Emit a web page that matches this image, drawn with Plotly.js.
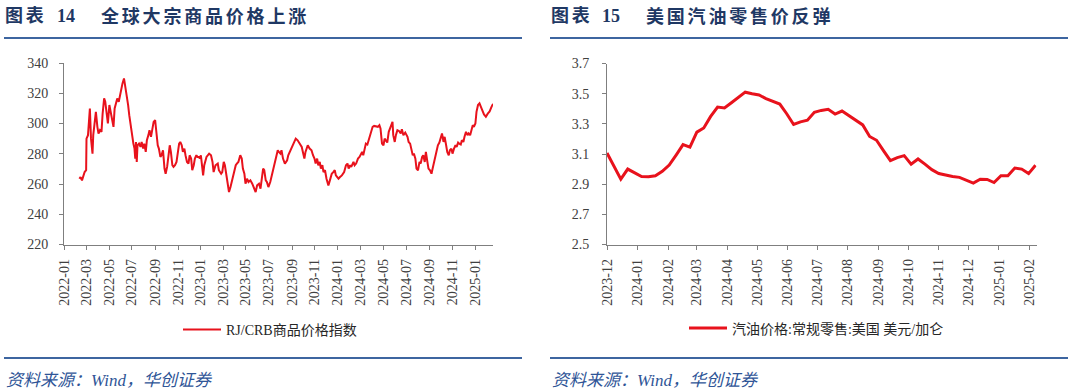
<!DOCTYPE html>
<html><head><meta charset="utf-8">
<script src="https://cdn.plot.ly/plotly-3.0.1.min.js"></script>
<style>html,body{margin:0;padding:0;background:#fff;}#chart{width:1080px;height:391px;}</style>
</head><body><div id="chart"></div>
<script>
// ---------- Chart 14: RJ/CRB commodity index ----------
const crbName = 'RJ/CRB商品价格指数';
const crbDates = [
'2022-02-11','2022-02-14','2022-02-18','2022-02-22','2022-02-25','2022-03-01','2022-03-02','2022-03-06','2022-03-10','2022-03-11',
'2022-03-14','2022-03-18','2022-03-20','2022-03-24','2022-03-27','2022-03-31','2022-04-03','2022-04-07','2022-04-11','2022-04-14',
'2022-04-18','2022-04-21','2022-04-25','2022-04-28','2022-05-02','2022-05-05','2022-05-09','2022-05-13','2022-05-16','2022-05-20',
'2022-05-23','2022-05-27','2022-05-30','2022-06-03','2022-06-06','2022-06-10','2022-06-14','2022-06-17','2022-06-21','2022-06-24',
'2022-06-28','2022-07-01','2022-07-05','2022-07-08','2022-07-10','2022-07-12','2022-07-14','2022-07-16','2022-07-20','2022-07-24',
'2022-07-27','2022-07-31','2022-08-03','2022-08-07','2022-08-10','2022-08-14','2022-08-17','2022-08-21','2022-08-25','2022-08-28',
'2022-09-01','2022-09-04','2022-09-08','2022-09-11','2022-09-15','2022-09-18','2022-09-22','2022-09-26','2022-09-29','2022-10-03',
'2022-10-06','2022-10-10','2022-10-13','2022-10-17','2022-10-20','2022-10-24','2022-10-28','2022-10-31','2022-11-04','2022-11-07',
'2022-11-11','2022-11-14','2022-11-18','2022-11-21','2022-11-25','2022-11-29','2022-12-02','2022-12-06','2022-12-09','2022-12-13',
'2022-12-16','2022-12-20','2022-12-23','2022-12-27','2022-12-29','2023-01-01','2023-01-07','2023-01-10','2023-01-16','2023-01-23',
'2023-01-28','2023-02-01','2023-02-04','2023-02-09','2023-02-15','2023-02-18','2023-02-24','2023-02-27','2023-03-03','2023-03-06',
'2023-03-10','2023-03-13','2023-03-17','2023-03-21','2023-03-24','2023-03-28','2023-03-31','2023-04-04','2023-04-07','2023-04-11',
'2023-04-16','2023-04-20','2023-04-23','2023-04-27','2023-04-30','2023-05-04','2023-05-08','2023-05-13','2023-05-18','2023-05-22',
'2023-05-27','2023-05-31','2023-06-05','2023-06-09','2023-06-12','2023-06-16','2023-06-19','2023-06-23','2023-06-26','2023-06-30',
'2023-07-05','2023-07-09','2023-07-14','2023-07-18','2023-07-21','2023-07-25','2023-07-28','2023-08-01','2023-08-04','2023-08-08',
'2023-08-13','2023-08-19','2023-08-22','2023-08-28','2023-08-31','2023-09-05','2023-09-11','2023-09-16','2023-09-21','2023-09-27',
'2023-09-30','2023-10-04','2023-10-07','2023-10-13','2023-10-18','2023-10-23','2023-10-27','2023-10-31','2023-11-03','2023-11-07',
'2023-11-10','2023-11-14','2023-11-17','2023-11-21','2023-11-24','2023-11-28','2023-12-02','2023-12-07','2023-12-11','2023-12-16',
'2023-12-20','2023-12-24','2023-12-27','2023-12-31','2024-01-03','2024-01-07','2024-01-12','2024-01-18','2024-01-23','2024-01-27',
'2024-01-30','2024-02-03','2024-02-06','2024-02-12','2024-02-15','2024-02-19','2024-02-24','2024-02-28','2024-03-02','2024-03-06',
'2024-03-09','2024-03-13','2024-03-16','2024-03-20','2024-03-23','2024-03-27','2024-03-31','2024-04-03','2024-04-07','2024-04-10',
'2024-04-14','2024-04-17','2024-04-21','2024-04-24','2024-04-28','2024-05-02','2024-05-05','2024-05-09','2024-05-12','2024-05-16',
'2024-05-19','2024-05-23','2024-05-26','2024-05-28','2024-06-01','2024-06-04','2024-06-08','2024-06-13','2024-06-17','2024-06-20',
'2024-06-24','2024-06-29','2024-07-05','2024-07-08','2024-07-12','2024-07-15','2024-07-19','2024-07-22','2024-07-26','2024-07-29',
'2024-08-02','2024-08-06','2024-08-09','2024-08-13','2024-08-16','2024-08-20','2024-08-23','2024-08-27','2024-08-30','2024-09-03',
'2024-09-07','2024-09-10','2024-09-14','2024-09-17','2024-09-21','2024-09-24','2024-09-28','2024-10-01','2024-10-05','2024-10-09',
'2024-10-12','2024-10-16','2024-10-19','2024-10-23','2024-10-26','2024-10-30','2024-11-02','2024-11-06','2024-11-10','2024-11-13',
'2024-11-17','2024-11-20','2024-11-24','2024-11-27','2024-12-01','2024-12-04','2024-12-08','2024-12-12','2024-12-15','2024-12-19',
'2024-12-22','2024-12-26','2024-12-29','2025-01-02','2025-01-05','2025-01-09','2025-01-13','2025-01-16','2025-01-20','2025-01-25',
'2025-01-30','2025-02-04','2025-02-09','2025-02-14','2025-02-18'
];
const crbValues = [
263.5,264.6,262.4,265.7,267.9,269.1,290.0,292.3,308.8,309.9,
290.0,280.1,292.3,301.1,307.7,297.8,293.4,295.6,294.5,306.6,
316.6,314.4,305.5,300.0,312.2,307.7,301.1,297.8,310.0,314.4,
316.6,314.4,318.8,323.2,326.5,329.8,324.3,319.9,312.2,305.5,
297.8,292.3,286.7,283.4,276.8,287.8,274.6,285.6,286.7,284.5,
287.8,283.4,286.7,281.2,289.0,292.3,295.6,291.2,295.6,301.1,
302.2,292.3,285.6,283.4,277.9,279.0,282.3,270.2,266.8,271.3,
276.8,285.6,281.2,272.4,271.3,272.4,274.6,279.0,286.7,287.8,
285.6,281.2,283.4,279.0,274.6,273.5,279.0,276.8,269.1,272.4,
276.8,279.0,277.9,277.9,276.8,279.0,265.7,272.4,277.9,280.1,
279.0,274.6,267.9,272.4,273.5,269.1,266.8,267.9,274.6,272.4,
264.6,261.3,254.7,258.0,261.3,265.7,270.2,272.4,273.5,274.6,
279.0,276.8,270.2,266.8,260.2,263.5,261.3,262.4,260.2,258.0,
254.7,259.1,260.2,256.9,263.5,270.2,269.1,262.4,261.3,258.0,
261.3,265.7,270.2,274.6,279.0,282.3,281.2,280.1,282.3,276.8,
273.5,275.7,279.0,282.3,284.5,286.7,290.0,288.9,286.7,284.5,
281.2,276.8,281.2,285.6,283.4,282.3,279.0,276.8,273.5,276.8,
272.4,274.6,270.2,272.4,267.9,269.1,263.5,259.1,262.4,266.8,
267.9,269.1,265.7,264.6,263.5,264.6,265.7,267.9,272.4,273.5,
270.2,272.4,271.3,274.6,272.4,273.5,276.8,277.9,279.0,281.2,
279.0,283.4,286.7,286.1,289.0,292.3,295.6,297.8,298.4,298.2,
298.4,297.8,298.9,296.7,286.7,285.6,290.0,288.9,287.4,294.5,
296.7,298.9,301.1,292.3,287.8,292.3,295.6,294.9,293.4,296.2,
292.3,294.0,291.2,287.8,286.7,283.4,279.0,280.1,276.8,270.2,
269.1,274.6,273.5,277.9,279.0,274.6,281.2,274.6,270.2,269.1,
266.8,270.2,274.6,279.0,282.3,285.6,287.4,290.0,293.4,287.8,
291.2,285.6,281.2,279.0,282.3,283.4,280.1,283.4,285.6,284.5,
287.4,286.7,286.1,289.0,287.8,291.2,294.5,292.3,293.4,292.3,
295.6,298.9,297.8,300.0,307.7,312.2,313.3,310.8,309.0,306.0,
304.5,306.5,308.0,311.0,313.0
];

// ---------- Chart 15: US regular retail gasoline price ----------
const gasName = '汽油价格:常规零售:美国 美元/加仑';
const gasDates = [
'2023-12-01','2023-12-08','2023-12-15','2023-12-22','2023-12-29',
'2024-01-05','2024-01-12','2024-01-19','2024-01-26',
'2024-02-02','2024-02-09','2024-02-16','2024-02-23',
'2024-03-01','2024-03-08','2024-03-15','2024-03-22','2024-03-29',
'2024-04-05','2024-04-12','2024-04-19','2024-04-26',
'2024-05-03','2024-05-10','2024-05-17','2024-05-24','2024-05-31',
'2024-06-07','2024-06-14','2024-06-21','2024-06-28',
'2024-07-05','2024-07-12','2024-07-19','2024-07-26',
'2024-08-02','2024-08-09','2024-08-16','2024-08-23','2024-08-30',
'2024-09-06','2024-09-13','2024-09-20','2024-09-27',
'2024-10-04','2024-10-11','2024-10-18','2024-10-25',
'2024-11-01','2024-11-08','2024-11-15','2024-11-22','2024-11-29',
'2024-12-06','2024-12-13','2024-12-20','2024-12-27',
'2025-01-03','2025-01-10','2025-01-17','2025-01-24','2025-01-31',
'2025-02-07'
];
const gasValues = [
3.107,3.016,2.933,3.000,2.973,
2.951,2.949,2.956,2.985,
3.027,3.093,3.162,3.145,
3.245,3.273,3.349,3.411,3.405,
3.440,3.473,3.510,3.500,
3.491,3.467,3.451,3.431,3.367,
3.296,3.313,3.324,3.376,
3.389,3.396,3.365,3.385,
3.356,3.325,3.293,3.216,3.191,
3.122,3.056,3.076,3.089,
3.033,3.067,3.033,2.996,
2.971,2.960,2.951,2.945,2.927,
2.907,2.933,2.931,2.911,
2.956,2.956,3.007,3.000,2.970,
3.025
];

const title14Num = '14', title14Text = '全球大宗商品价格上涨';
const title15Num = '15', title15Text = '美国汽油零售价反弹';
const sourceText = '资料来源：Wind，华创证券';

const W = 1080, H = 391;
const px = x => x / W, py = y => 1 - y / H;
const RED = '#e8121c';
const NAVY = '#1f3864';
const RULE = '#3d65a0';
const SRC = '#2f5597';
const SERIF = "'Liberation Serif', 'Times New Roman', 'Noto Sans CJK SC', serif";
const tickFont = {family: SERIF, size: 14, color: '#404040'};
const axisCommon = {showline: true, linecolor: '#7f7f7f', linewidth: 1, ticks: 'outside',
  ticklen: 4, tickcolor: '#7f7f7f', showgrid: false, zeroline: false, tickfont: tickFont, fixedrange: true};

const traces = [
  {x: crbDates, y: crbValues, name: crbName, type: 'scatter', mode: 'lines',
   line: {color: RED, width: 2}, xaxis: 'x', yaxis: 'y', legend: 'legend'},
  {x: gasDates, y: gasValues, name: gasName, type: 'scatter', mode: 'lines',
   line: {color: RED, width: 3, shape: 'linear'}, xaxis: 'x2', yaxis: 'y2', legend: 'legend2'}
];

const legendFont = {family: SERIF, size: 14, color: '#262626'};
const layout = {
  width: W, height: H, margin: {l: 0, r: 0, t: 0, b: 0},
  paper_bgcolor: '#fff', plot_bgcolor: '#fff', showlegend: true,
  xaxis: Object.assign({}, axisCommon, {type: 'date', domain: [px(64), px(493)], anchor: 'y',
    range: ['2022-01-01', '2025-02-18'], tickmode: 'linear', tick0: '2022-01-01', dtick: 'M2',
    tickformat: '%Y-%m', tickangle: -90, ticklabelstandoff: 4}),
  yaxis: Object.assign({}, axisCommon, {domain: [py(244.5), py(63)], anchor: 'x',
    range: [220, 340], dtick: 20, tick0: 220, ticklabelstandoff: 8}),
  xaxis2: Object.assign({}, axisCommon, {type: 'date', domain: [px(607), px(1036.5)], anchor: 'y2',
    range: ['2023-12-01', '2025-02-08'], tickmode: 'linear', tick0: '2023-12-01', dtick: 'M1',
    tickformat: '%Y-%m', tickangle: -90, ticklabelstandoff: 4}),
  yaxis2: Object.assign({}, axisCommon, {domain: [py(244.5), py(63.5)], anchor: 'x2',
    range: [2.5, 3.7], dtick: 0.2, tick0: 2.5, tickformat: '.1f', ticklabelstandoff: 10}),
  legend: {x: px(178), y: py(330), xanchor: 'left', yanchor: 'middle', font: legendFont,
    bgcolor: 'rgba(0,0,0,0)', borderwidth: 0, itemwidth: 38},
  legend2: {x: px(684), y: py(328.5), xanchor: 'left', yanchor: 'middle', font: legendFont,
    bgcolor: 'rgba(0,0,0,0)', borderwidth: 0, itemwidth: 38},
  shapes: [
    {type: 'line', xref: 'paper', yref: 'paper', x0: px(4), x1: px(522), y0: py(38), y1: py(38), line: {color: RULE, width: 2}},
    {type: 'line', xref: 'paper', yref: 'paper', x0: px(550), x1: px(1068), y0: py(38), y1: py(38), line: {color: RULE, width: 2}},
    {type: 'line', xref: 'paper', yref: 'paper', x0: px(4), x1: px(522), y0: py(358), y1: py(358), line: {color: RULE, width: 2}},
    {type: 'line', xref: 'paper', yref: 'paper', x0: px(550), x1: px(1068), y0: py(358), y1: py(358), line: {color: RULE, width: 2}}
  ],
  annotations: []
};

const titleFont = {family: SERIF, size: 18, color: NAVY, weight: 'bold'};
function addText(text, x, y, font) {
  layout.annotations.push({text: text, xref: 'paper', yref: 'paper', x: px(x), y: py(y),
    xanchor: 'left', yanchor: 'middle', showarrow: false, font: font, borderpad: 0});
}
const sp = s => '<span style="letter-spacing:2.8px">' + s + '</span>';
addText(sp('图表'), 4, 16, titleFont);
addText(title14Num, 56, 16, titleFont);
addText(sp(title14Text), 100, 16, titleFont);
addText(sp('图表'), 550, 16, titleFont);
addText(title15Num, 601, 16, titleFont);
addText(sp(title15Text), 645, 16, titleFont);
const srcFont = {family: SERIF, size: 17, color: SRC, style: 'italic'};
addText(sourceText, 5, 380, srcFont);
addText(sourceText, 551, 380, srcFont);

Plotly.newPlot('chart', traces, layout, {displayModeBar: false, staticPlot: true});
</script></body></html>
